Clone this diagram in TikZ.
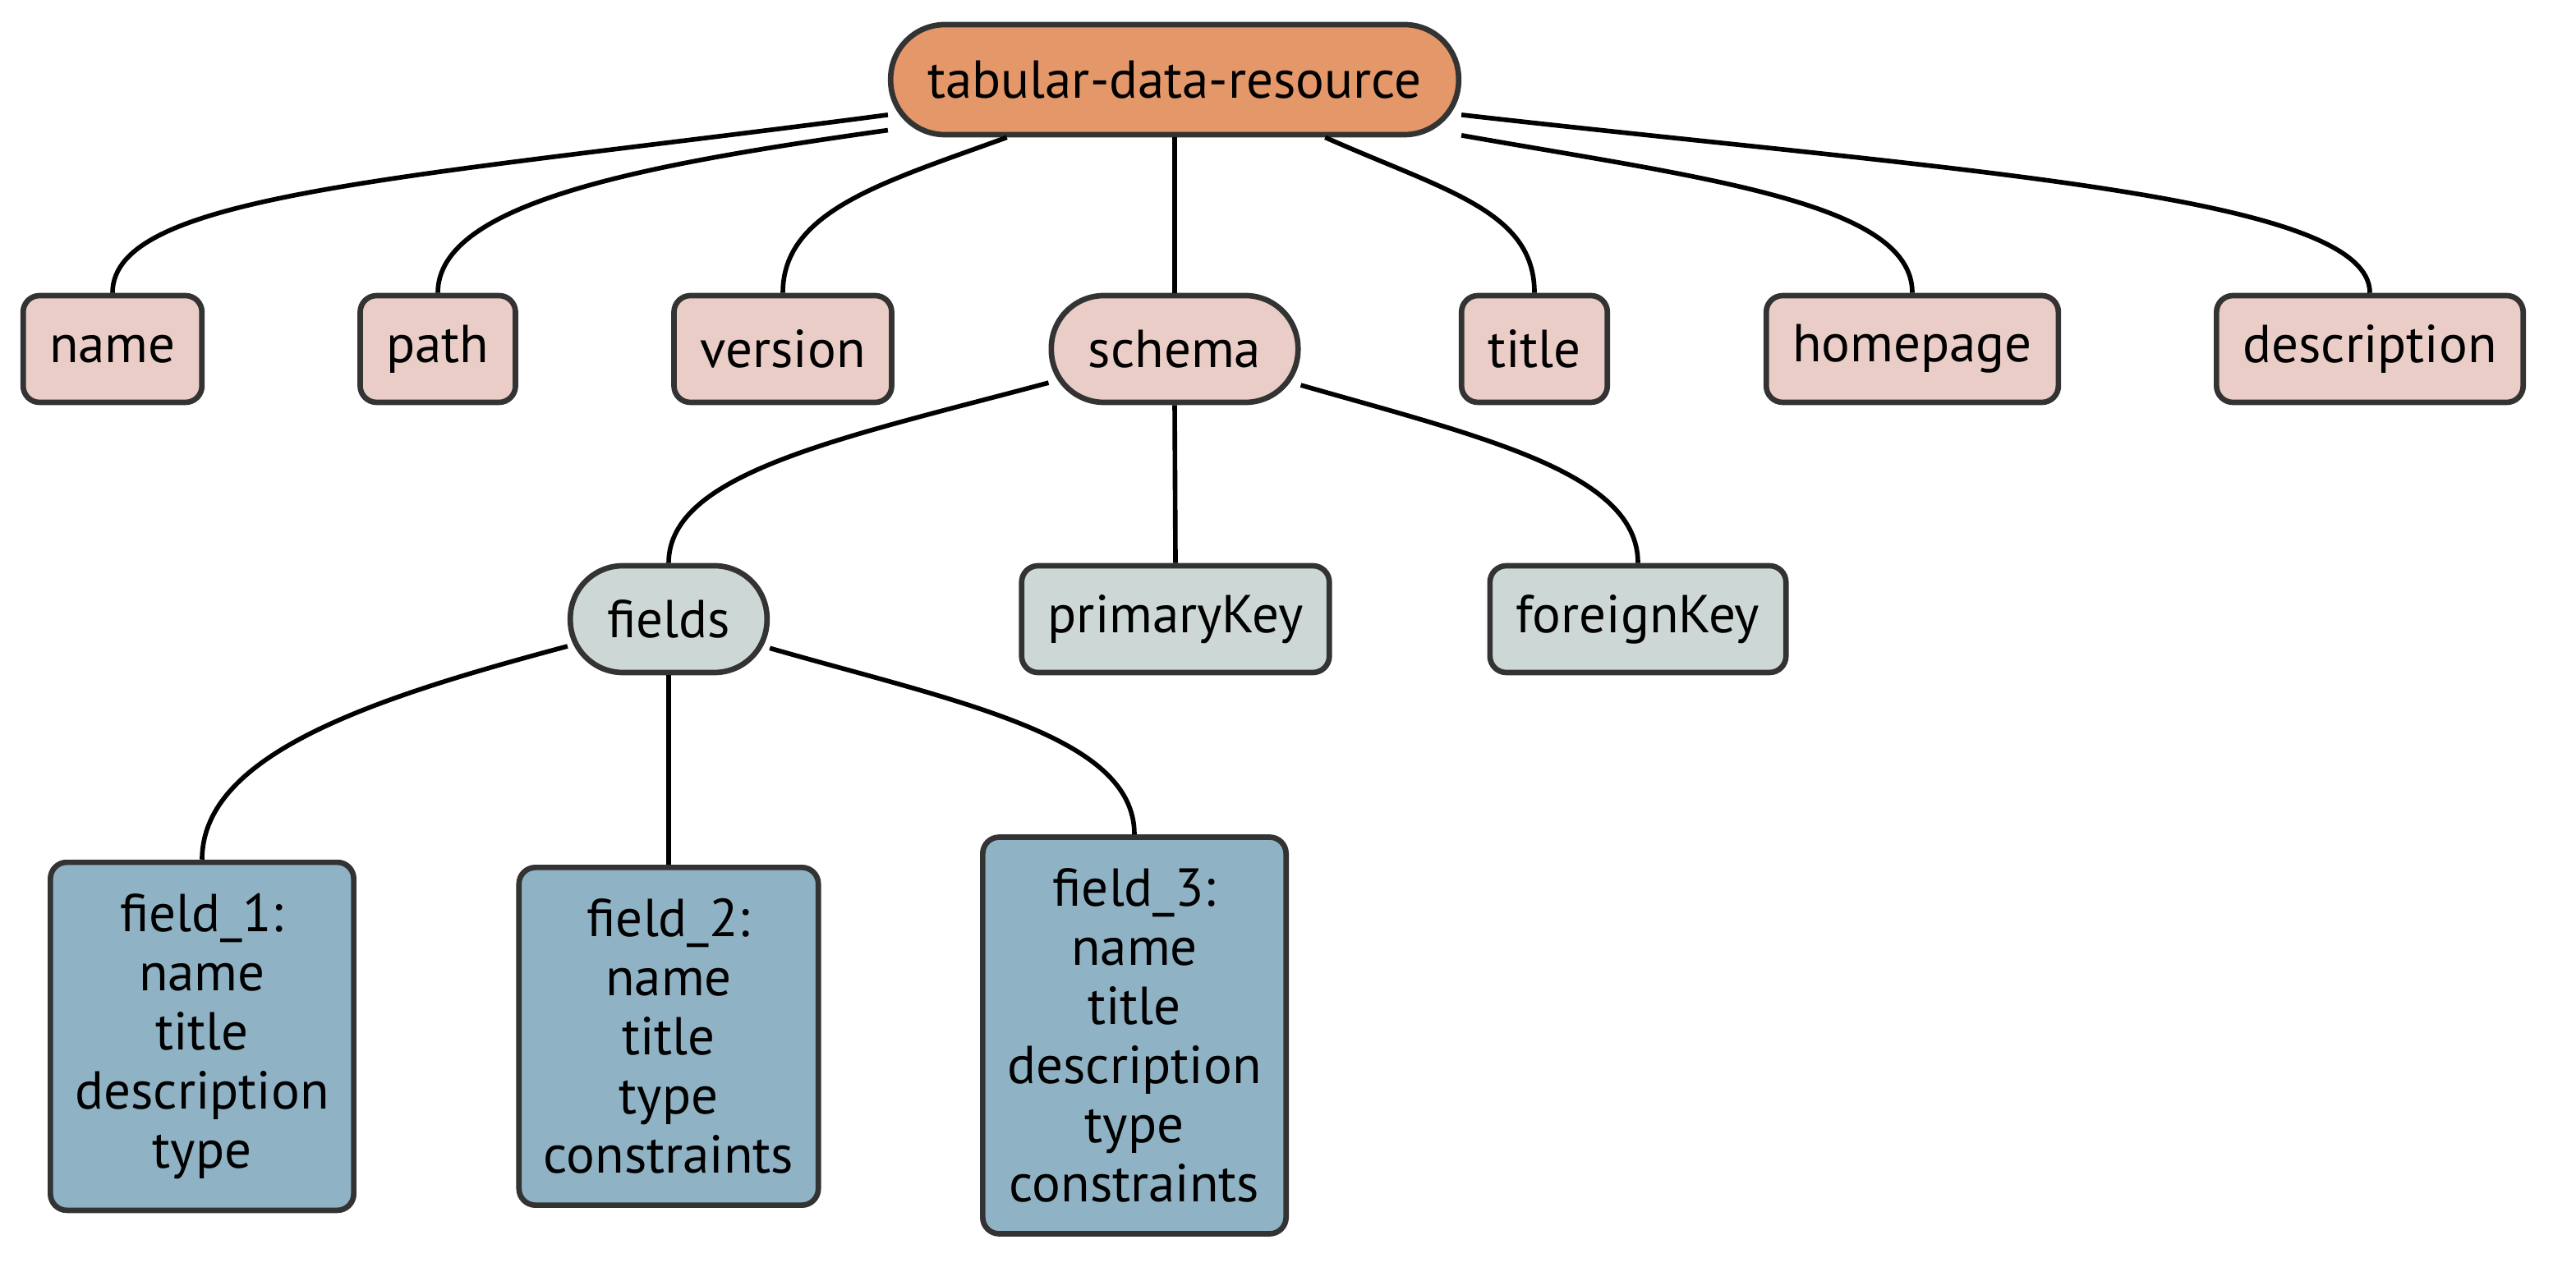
\documentclass[tikz,border=0pt]{standalone}
\usepackage{fontspec}
\setmainfont{PT Sans}
\definecolor{rootfill}{HTML}{E49768}
\definecolor{propfill}{HTML}{EACDC6}
\definecolor{schemafill}{HTML}{CDD8D6}
\definecolor{fieldfill}{HTML}{8FB3C4}
\definecolor{edgegray}{HTML}{333333}
\begin{document}
\begin{tikzpicture}[
    every node/.style={font=\fontsize{18.5}{20.5}\selectfont, draw=edgegray, line width=1.9pt, text=black},
    box/.style={rectangle, rounded corners=0.2cm, minimum height=1.3cm, inner xsep=0.32cm},
    pill/.style={rectangle, rounded corners=0.64cm, minimum height=1.3cm, inner xsep=0.45cm},
    fieldbox/.style={rectangle, rounded corners=0.2cm, align=center, inner xsep=0.3cm, inner ysep=0.38cm, fill=fieldfill},
    link/.style={draw=black, line width=1.6pt}
  ]
    \useasboundingbox (0,0) rectangle (31.36,-15.6);
    % top level
    \node (tdr) at (14.30,-0.97) [pill, rounded corners=0.66cm, minimum height=1.34cm, fill=rootfill] {tabular-data-resource};
    \node (name) at (1.37,-4.25) [box, fill=propfill] {name};
    \node (path) at (5.33,-4.25) [box, fill=propfill] {path};
    \node (version) at (9.53,-4.25) [box, fill=propfill] {version};
    \node (schema) at (14.30,-4.25) [pill, fill=propfill] {schema};
    \node (title) at (18.68,-4.25) [box, fill=propfill] {title};
    \node (homepage) at (23.28,-4.25) [box, fill=propfill] {homepage};
    \node (description) at (28.85,-4.25) [box, fill=propfill] {description};
    % schema parts
    \node (fields) at (8.14,-7.54) [pill, fill=schemafill] {fields};
    \node (primaryKey) at (14.31,-7.54) [box, fill=schemafill] {primaryKey};
    \node (foreignKey) at (19.94,-7.54) [box, fill=schemafill] {foreignKey};
    % the fields
    \node (field1) at (2.46,-12.62) [fieldbox] {field\_1:\\name\\title\\description\\type};
    \node (field2) at (8.14,-12.62) [fieldbox] {field\_2:\\name\\title\\type\\constraints};
    \node (field3) at (13.81,-12.61) [fieldbox] {field\_3:\\name\\title\\description\\type\\constraints};

    \draw[link] (tdr.187.2) to[out=187.5, in=90, out distance=6cm, in distance=1.2cm] (name.north);
    \draw[link] (tdr.190.5) to[out=188, in=90, out distance=3cm, in distance=1.1cm] (path.north);
    \draw[link] (tdr.199.7) to[out=200, in=90, out distance=1.6cm, in distance=1cm] (version.north);
    \draw[link] (tdr.south) -- (schema.north);
    \draw[link] (tdr.339.4) to[out=-24, in=90, out distance=1.6cm, in distance=1cm] (title.north);
    \draw[link] (tdr.349.7) to[out=-10, in=90, out distance=3cm, in distance=1.1cm] (homepage.north);
    \draw[link] (tdr.353.6) to[out=-6.5, in=90, out distance=6cm, in distance=1.2cm] (description.north);

    \draw[link] (schema.195.2) to[out=195, in=90, out distance=2.6cm, in distance=1.1cm] (fields.north);
    \draw[link] (schema.south) -- (primaryKey.north);
    \draw[link] (schema.344) to[out=-16, in=90, out distance=2.3cm, in distance=1.1cm] (foreignKey.north);

    \draw[link] (fields.195.5) to[out=195, in=90, out distance=2.4cm, in distance=1.3cm] (field1.north);
    \draw[link] (fields.south) -- (field2.north);
    \draw[link] (fields.344.5) to[out=-16, in=90, out distance=2.4cm, in distance=1.2cm] (field3.north);
  \end{tikzpicture}
\end{document}
